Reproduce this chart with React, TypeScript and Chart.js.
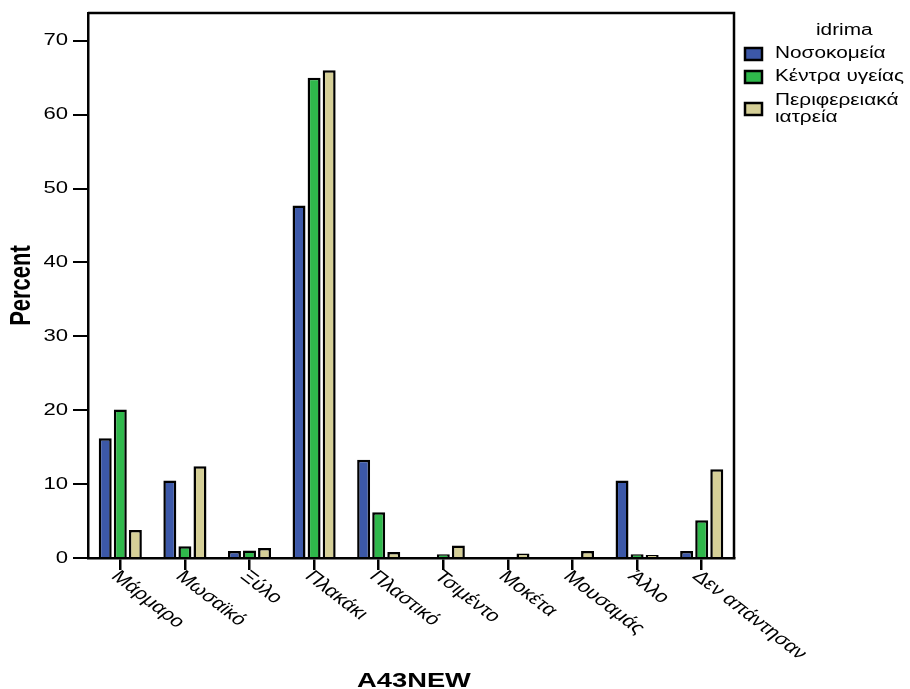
import React, { useEffect, useRef } from "react";
import { Chart, registerables } from "chart.js";

Chart.register(...registerables);

const categories = [
  "Μάρμαρο",
  "Μωσαϊκό",
  "Ξύλο",
  "Πλακάκι",
  "Πλαστικό",
  "Τσιμέντο",
  "Μοκέτα",
  "Μουσαμάς",
  "Άλλο",
  "Δεν απάντησαν",
];

const seriesNames = ["Νοσοκομεία", "Κέντρα υγείας", "Περιφερειακά ιατρεία"];
const legendLines = [["Νοσοκομεία"], ["Κέντρα υγείας"], ["Περιφερειακά", "ιατρεία"]];

const hospitals = [16.2, 10.5, 0.95, 47.7, 13.3, 0, 0, 0, 10.5, 0.95];
const healthCenters = [20.1, 1.6, 1.0, 65.0, 6.2, 0.5, 0, 0, 0.5, 5.1];
const regionalClinics = [3.8, 12.4, 1.35, 66.0, 0.8, 1.7, 0.6, 0.95, 0.4, 12.0];

const yTicks = [0, 10, 20, 30, 40, 50, 60, 70];

const colors = ["#3c58a8", "#2fb84b", "#d5cf97"];

const FONT = "'Liberation Sans', Arial, sans-serif";
const SX = 1.3;

const overlayPlugin = {
  id: "overlay",
  afterDraw(chart: any) {
    const ctx = chart.ctx as CanvasRenderingContext2D;
    const area = chart.chartArea;
    const xs = chart.scales.x;
    const ys = chart.scales.y;
    ctx.save();
    // frame top & right
    ctx.strokeStyle = "#000";
    ctx.lineWidth = 2.5;
    ctx.beginPath();
    ctx.moveTo(area.left, area.top);
    ctx.lineTo(area.right, area.top);
    ctx.lineTo(area.right, area.bottom);
    ctx.stroke();

    ctx.fillStyle = "#000";
    // y tick labels
    ctx.font = `17px ${FONT}`;
    yTicks.forEach((v) => {
      const y = ys.getPixelForValue(v);
      ctx.save();
      ctx.translate(68, y);
      ctx.scale(SX, 1);
      ctx.textAlign = "right";
      ctx.textBaseline = "middle";
      ctx.fillText(String(v), 0, 0);
      ctx.restore();
    });

    // x tick labels rotated
    ctx.font = `17px ${FONT}`;
    categories.forEach((c, i) => {
      const x = xs.getPixelForTick(i);
      ctx.save();
      ctx.translate(x + 2, area.bottom + 10);
      ctx.scale(SX, 1);
      ctx.rotate(Math.PI / 4);
      ctx.textAlign = "left";
      ctx.textBaseline = "top";
      ctx.fillText(c, 0, 0);
      ctx.restore();
    });

    // axis titles
    ctx.font = `bold 21px ${FONT}`;
    ctx.save();
    ctx.translate((area.left + area.right) / 2 + 3, 687);
    ctx.scale(SX, 1);
    ctx.textAlign = "center";
    ctx.textBaseline = "alphabetic";
    ctx.fillText("A43NEW", 0, 0);
    ctx.restore();

    ctx.font = `bold 22px ${FONT}`;
    ctx.save();
    ctx.translate(22, (area.top + area.bottom) / 2);
    ctx.scale(SX, 1);
    ctx.rotate(-Math.PI / 2);
    ctx.textAlign = "center";
    ctx.textBaseline = "middle";
    ctx.fillText("Percent", 0, 0);
    ctx.restore();

    // legend
    ctx.font = `16px ${FONT}`;
    ctx.save();
    ctx.translate(816, 31);
    ctx.scale(SX, 1);
    ctx.textAlign = "left";
    ctx.textBaseline = "middle";
    ctx.fillText("idrima", 0, 0);
    ctx.restore();

    const rowY = [54, 77, 109];
    legendLines.forEach((lines, i) => {
      const cy = rowY[i];
      ctx.fillStyle = colors[i];
      ctx.fillRect(745, cy - 6, 17, 12);
      ctx.strokeStyle = "#000";
      ctx.lineWidth = 2.5;
      ctx.strokeRect(745, cy - 6, 17, 12);
      ctx.fillStyle = "#000";
      lines.forEach((t, j) => {
        const ly = cy + (j - (lines.length - 1) / 2) * 17;
        ctx.save();
        ctx.translate(775, ly);
        ctx.scale(SX, 1);
        ctx.textAlign = "left";
        ctx.textBaseline = "middle";
        ctx.fillText(t, 0, 0);
        ctx.restore();
      });
    });
    ctx.restore();
  },
};

export default function App() {
  const ref = useRef<HTMLCanvasElement | null>(null);
  useEffect(() => {
    document.body.style.margin = "0";
    if (!ref.current) return;
    const series = [hospitals, healthCenters, regionalClinics];
    const chart = new Chart(ref.current, {
      type: "bar",
      data: {
        labels: categories,
        datasets: series.map((d, i) => ({
          label: seriesNames[i],
          data: d,
          backgroundColor: colors[i],
          borderColor: "#000",
          borderWidth: 2.5,
          categoryPercentage: 0.7,
          barPercentage: 0.86,
        })),
      },
      options: {
        animation: false,
        responsive: false,
        devicePixelRatio: 1,
        layout: { padding: { left: 0, top: 13, right: 176, bottom: 0 } },
        plugins: { legend: { display: false }, tooltip: { enabled: false } },
        scales: {
          x: {
            offset: true,
            grid: {
              offset: false,
              drawOnChartArea: false,
              drawTicks: true,
              tickLength: 12,
              color: "#000",
              lineWidth: 2.5,
            },
            border: { display: true, color: "#000", width: 2.5 },
            ticks: { display: false },
            afterFit: (s: any) => {
              s.height = 131;
            },
          },
          y: {
            min: 0,
            max: 73.75,
            grid: {
              drawOnChartArea: false,
              drawTicks: true,
              tickLength: 15,
              color: "#000",
              lineWidth: 2,
            },
            border: { display: true, color: "#000", width: 2.5 },
            ticks: { display: false, stepSize: 10 },
            afterBuildTicks: (s: any) => {
              s.ticks = yTicks.map((v) => ({ value: v }));
            },
            afterFit: (s: any) => {
              s.width = 88;
            },
          },
        },
      },
      plugins: [overlayPlugin],
    });
    return () => chart.destroy();
  }, []);
  return <canvas ref={ref} width={910} height={689} style={{ display: "block" }} />;
}
